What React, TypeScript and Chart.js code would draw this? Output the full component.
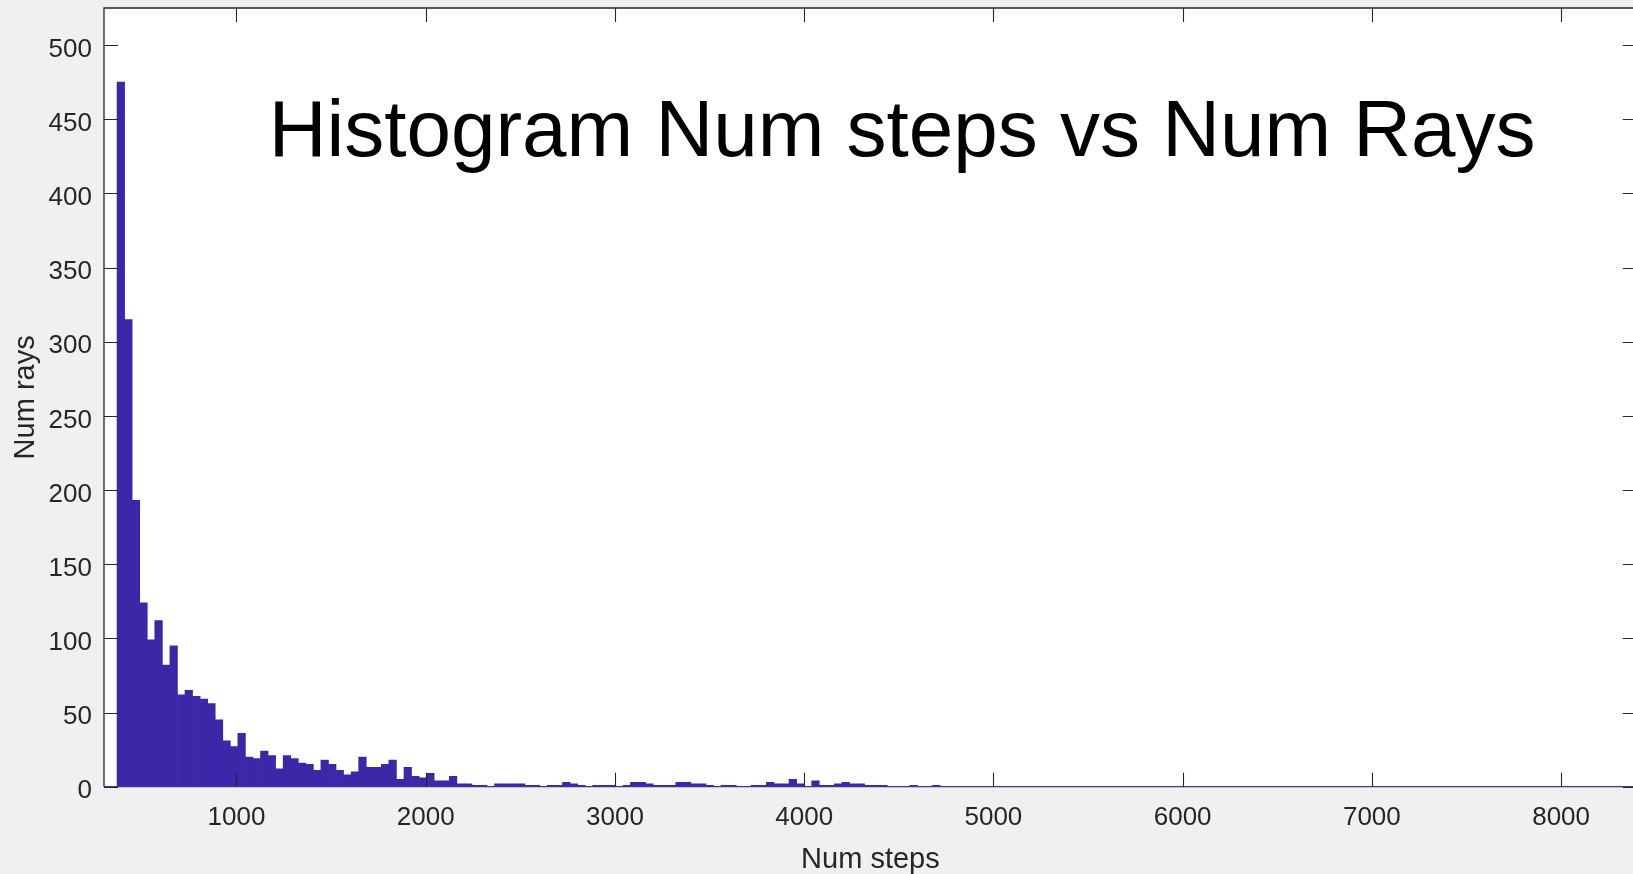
import React, { useEffect, useRef } from "react";
import { Chart, registerables } from "chart.js";

Chart.register(...registerables);

// Histogram bins (Num steps): first bin left edge and bin width
const binStart = 369;
const binWidth = 39.9;

// Counts per bin (Num rays)
const rayCounts = [
  475, 315, 193, 124, 99, 112, 82, 95, 62, 65,
  61, 59, 56, 45, 31, 27, 36, 20, 19, 24,
  21, 12, 21, 19, 16, 15, 11, 18, 15, 11,
  8, 10, 20, 13, 13, 15, 18, 5, 13, 7,
  6, 9, 4, 4, 7, 2, 2, 1, 1, 0,
  2, 2, 2, 2, 1, 1, 0, 1, 1, 3,
  2, 1, 0, 1, 1, 1, 0, 1, 3, 3,
  2, 1, 1, 1, 3, 3, 2, 2, 1, 0,
  1, 1, 0, 0, 1, 1, 3, 2, 2, 5,
  2, 0, 4, 1, 1, 2, 3, 2, 2, 1,
  1, 1, 0, 0, 0, 1, 0, 0, 1,
];

const xTickValues = [1000, 2000, 3000, 4000, 5000, 6000, 7000, 8000];
const yTickValues = [0, 50, 100, 150, 200, 250, 300, 350, 400, 450, 500];

const xRange = [300, 8400];
const yRange = [0, 525];

const chartTitle = "Histogram Num steps vs Num Rays";
const titleAnchor = { x: 1170, y: 425 };
const xAxisTitle = "Num steps";
const yAxisTitle = "Num rays";

const FONT = '"Liberation Sans", Arial, Helvetica, sans-serif';
const AXIS_COLOR = "#262626";
const BAR_COLOR = "#3d26a8";

const CANVAS_W = 1645;
const CANVAS_H = 874;

const framePlugin = {
  id: "matlabFrame",
  beforeDraw(chart: any) {
    const { ctx, chartArea } = chart;
    ctx.save();
    ctx.fillStyle = "#f0f0f0";
    ctx.fillRect(0, 0, chart.width, chart.height);
    ctx.fillStyle = "#ffffff";
    ctx.fillRect(chartArea.left, chartArea.top, chartArea.right - chartArea.left, chartArea.bottom - chartArea.top);
    ctx.restore();
  },
  afterDatasetsDraw(chart: any) {
    const { ctx, chartArea, scales } = chart;
    const { left, right, top, bottom } = chartArea;
    const tickLen = 14;
    ctx.save();
    ctx.strokeStyle = AXIS_COLOR;
    ctx.lineWidth = 1.3;
    ctx.beginPath();
    ctx.moveTo(left, bottom);
    ctx.lineTo(left, top);
    ctx.lineTo(right, top);
    ctx.lineTo(right, bottom);
    ctx.stroke();
    ctx.strokeStyle = "#3f3592";
    ctx.beginPath();
    ctx.moveTo(left, bottom);
    ctx.lineTo(right, bottom);
    ctx.stroke();
    ctx.strokeStyle = AXIS_COLOR;
    ctx.lineWidth = 1.1;
    ctx.beginPath();
    for (const v of xTickValues) {
      const px = Math.round(scales.x.getPixelForValue(v)) + 0.5;
      ctx.moveTo(px, bottom);
      ctx.lineTo(px, bottom - tickLen);
      ctx.moveTo(px, top);
      ctx.lineTo(px, top + tickLen);
    }
    for (const v of yTickValues) {
      const py = Math.round(scales.y.getPixelForValue(v)) + 0.5;
      ctx.moveTo(left, py);
      ctx.lineTo(left + tickLen, py);
      ctx.moveTo(right, py);
      ctx.lineTo(right - tickLen, py);
    }
    ctx.stroke();

    ctx.fillStyle = "#000000";
    ctx.font = `80px ${FONT}`;
    ctx.textAlign = "left";
    ctx.textBaseline = "alphabetic";
    ctx.fillText(chartTitle, scales.x.getPixelForValue(titleAnchor.x), scales.y.getPixelForValue(titleAnchor.y));
    ctx.restore();
  },
};

export default function App() {
  const canvasRef = useRef<HTMLCanvasElement | null>(null);

  useEffect(() => {
    const canvas = canvasRef.current;
    if (!canvas) return;
    const data = rayCounts.map((c, i) => ({ x: binStart + binWidth * (i + 0.5), y: c }));
    const chart = new Chart(canvas, {
      type: "bar",
      data: {
        datasets: [
          {
            data: data as any,
            backgroundColor: BAR_COLOR,
            borderWidth: 0,
            barPercentage: 1,
            categoryPercentage: 1,
          },
        ],
      },
      options: {
        animation: false,
        responsive: false,
        maintainAspectRatio: false,
        devicePixelRatio: 1,
        layout: { padding: { top: 8, right: 8.2, left: 0, bottom: 0 } },
        plugins: {
          legend: { display: false },
          tooltip: { enabled: false },
          title: { display: false },
        },
        scales: {
          x: {
            type: "linear",
            min: xRange[0],
            max: xRange[1],
            offset: false,
            grid: { display: false, offset: false, drawTicks: false },
            border: { display: false },
            afterBuildTicks: (s: any) => {
              s.ticks = xTickValues.map((v) => ({ value: v }));
            },
            afterFit: (s: any) => {
              s.height = 87.3;
              s.paddingLeft = 0;
              s.paddingRight = 0;
              s.paddingTop = 0;
              s.paddingBottom = 0;
            },
            ticks: {
              autoSkip: false,
              maxRotation: 0,
              padding: 16,
              color: AXIS_COLOR,
              font: { family: FONT, size: 26 },
              callback: (v: any) => String(v),
            },
            title: {
              display: true,
              text: xAxisTitle,
              color: AXIS_COLOR,
              font: { family: FONT, size: 29 },
              padding: { top: 0, bottom: -3 },
            },
          },
          y: {
            type: "linear",
            min: yRange[0],
            max: yRange[1],
            grid: { display: false, drawTicks: false },
            border: { display: false },
            afterBuildTicks: (s: any) => {
              s.ticks = yTickValues.map((v) => ({ value: v }));
            },
            afterFit: (s: any) => {
              s.width = 104;
              s.paddingLeft = 0;
              s.paddingRight = 0;
              s.paddingTop = 0;
              s.paddingBottom = 0;
            },
            ticks: {
              autoSkip: false,
              padding: 12,
              labelOffset: 4.5,
              color: AXIS_COLOR,
              font: { family: FONT, size: 26 },
              callback: (v: any) => String(v),
            },
            title: {
              display: true,
              text: yAxisTitle,
              color: AXIS_COLOR,
              font: { family: FONT, size: 29 },
              padding: { top: 8.6, bottom: 0 },
            },
          },
        },
      },
      plugins: [framePlugin],
    });
    return () => chart.destroy();
  }, []);

  return (
    <div
      style={{
        position: "absolute",
        left: 0,
        top: 0,
        width: 1633,
        height: 874,
        overflow: "hidden",
        background: "#f0f0f0",
      }}
    >
      <canvas
        ref={canvasRef}
        width={CANVAS_W}
        height={CANVAS_H}
        style={{ display: "block", width: CANVAS_W, height: CANVAS_H }}
      />
    </div>
  );
}
